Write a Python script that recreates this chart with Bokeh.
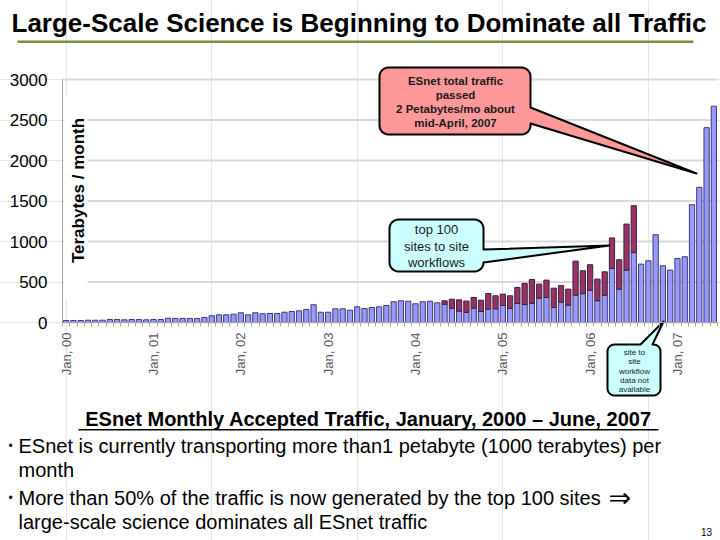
import math
from bokeh.plotting import figure
from bokeh.models import ColumnDataSource, Range1d, FixedTicker, Label, LinearAxis
from bokeh.embed import file_html
from bokeh.resources import INLINE

# ---------------- data (TB / month), Jan 2000 .. Jun 2007 ----------------
total_tb = [
    25, 25, 25, 28, 28, 28, 37, 37, 33, 37, 37, 33,            # 2000
    37, 37, 53, 50, 50, 50, 50, 62, 83, 95, 95, 103,           # 2001
    120, 95, 120, 108, 111, 111, 127, 136, 145, 161, 219, 127, # 2002
    127, 169, 169, 152, 194, 173, 185, 194, 210, 256, 268, 263,# 2003
    231, 256, 262, 243, 268, 288, 280, 265, 309, 276, 358, 330,# 2004
    350, 330, 433, 482, 531, 474, 523, 424, 455, 412, 758, 639,# 2005
    713, 536, 626, 1044, 775, 1215, 1442, 721, 762, 1084, 700, 647,  # 2006
    791, 812, 1454, 1669, 2405, 2670,                          # 2007
]
# top 100 site-to-site workflows, May 2004 .. Jul 2006 (month index 52..78)
top100_first_month = 52
top100_tb = [43, 113, 140, 141, 132, 140, 193, 161, 140, 157, 198, 260, 294,
             173, 214, 239, 204, 198, 420, 283, 315, 268, 290, 377, 363, 568, 579]
tick_months = [0, 12, 24, 36, 48, 60, 72, 84]
tick_labels = ["Jan, 00", "Jan, 01", "Jan, 02", "Jan, 03", "Jan, 04", "Jan, 05", "Jan, 06", "Jan, 07"]
y_ticks = [0, 500, 1000, 1500, 2000, 2500, 3000]
y_max = 3000

n = len(total_tb)
months = list(range(n))
workflow = [0] * n
for i, v in enumerate(top100_tb):
    workflow[top100_first_month + i] = v
other = [t - w for t, w in zip(total_tb, workflow)]
src = ColumnDataSource(dict(m=months, other=other, total=total_tb))
red_idx = [i for i in months if workflow[i] > 0]
src_red = ColumnDataSource(dict(m=red_idx, bottom=[other[i] for i in red_idx],
                                top=[total_tb[i] for i in red_idx]))

# ---------------- layout: the frame is the whole canvas ----------------
W, H = 720, 540
PL, PR, PT, PB = 62, 717, 79, 322          # plot area in canvas pixels
x_lo, x_hi = -0.5, n - 0.5
kx = (PR - PL) / (x_hi - x_lo)
ky = (PB - PT) / y_max
x_range = Range1d(x_lo - PL / kx, x_hi + (W - PR) / kx)
y_range = Range1d(0 - (H - PB) / ky, y_max + PT / ky)

p = figure(width=W, height=H, output_backend="svg", toolbar_location=None,
           x_range=x_range, y_range=y_range,
           x_axis_location=None, y_axis_location=None)
p.min_border = 0
p.outline_line_color = None
p.background_fill_color = "white"
p.border_fill_color = "white"
p.extra_x_ranges = {"px": Range1d(0, W)}
p.extra_y_ranges = {"py": Range1d(H, 0)}

# gridlines across the plot area only
p.segment(x0=[x_lo] * len(y_ticks), x1=[x_hi] * len(y_ticks), y0=y_ticks, y1=y_ticks,
          line_color="#d9d9d9", line_width=2)

BAR_W = 0.72
p.vbar(x="m", width=BAR_W, bottom=0, top="other", source=src,
       fill_color="#9999ff", line_color="#3a3a78", line_width=1)
p.vbar(x="m", width=BAR_W, bottom="bottom", top="top", source=src_red,
       fill_color="#993366", line_color="#3a2040", line_width=1)

# axes drawn at fixed data locations (no side panels)
xaxis = LinearAxis(fixed_location=0, bounds=(x_lo, x_hi))
xaxis.ticker = FixedTicker(ticks=tick_months, minor_ticks=[i - 0.5 for i in range(n + 1)])
xaxis.major_label_overrides = {m: l for m, l in zip(tick_months, tick_labels)}
xaxis.major_label_orientation = math.pi / 2
xaxis.major_tick_out = 0
xaxis.major_tick_in = 0
xaxis.minor_tick_out = 4
xaxis.minor_tick_in = 0
xaxis.minor_tick_line_color = "#a6a6a6"
xaxis.axis_line_color = "#a6a6a6"
xaxis.major_label_text_font = "Liberation Sans"
xaxis.major_label_text_font_size = "13px"
xaxis.major_label_text_color = "#595959"
xaxis.major_label_standoff = 6
p.add_layout(xaxis, "below")

yaxis = LinearAxis(fixed_location=x_lo, bounds=(0, y_max))
yaxis.ticker = FixedTicker(ticks=y_ticks)
yaxis.major_tick_out = 0
yaxis.major_tick_in = 0
yaxis.minor_tick_out = 0
yaxis.minor_tick_in = 0
yaxis.axis_line_color = "#a6a6a6"
yaxis.major_label_text_font = "Liberation Sans"
yaxis.major_label_text_font_size = "17px"
yaxis.major_label_text_color = "black"
yaxis.major_label_standoff = 15
p.add_layout(yaxis, "left")


def shape(xs, ys, fill, line=None, lw=0):
    p.patch(x=xs, y=ys, x_range_name="px", y_range_name="py",
            fill_color=fill, fill_alpha=1.0,
            line_color=line, line_width=lw, line_join="round")


def label(x, y, text, size, font="Liberation Sans", style="normal", color="black",
          align="left", baseline="middle", angle=0.0):
    p.add_layout(Label(x=x, y=y, text=text, x_range_name="px", y_range_name="py",
                       text_font=font, text_font_size=f"{size}px", text_font_style=style,
                       text_color=color, text_align=align, text_baseline=baseline,
                       angle=angle))


def callout(x0, y0, x1, y1, r, side, a, b, tip):
    pts = []
    def arc(cx, cy, a0, a1):
        for k in range(7):
            t = math.radians(a0 + (a1 - a0) * k / 6)
            pts.append((cx + r * math.cos(t), cy + r * math.sin(t)))
    pts.append((x0 + r, y0))
    if side == "top":
        pts.extend([(a, y0), tip, (b, y0)])
    pts.append((x1 - r, y0))
    arc(x1 - r, y0 + r, -90, 0)
    if side == "right":
        pts.extend([(x1, a), tip, (x1, b)])
    arc(x1 - r, y1 - r, 0, 90)
    arc(x0 + r, y1 - r, 90, 180)
    arc(x0 + r, y0 + r, 180, 270)
    return [q[0] for q in pts], [q[1] for q in pts]


# title + rule
label(11, 22, "Large-Scale Science is Beginning to Dominate all Traffic", 26, style="bold")
shape([17, 693, 693, 17], [40, 40, 42.5, 42.5], "#77933c")

# y-axis title inside the plot with white backing
shape([63, 87, 87, 63], [96, 96, 300, 300], "white")
label(78, 190, "Terabytes / month", 17, style="bold", align="center", angle=math.pi / 2)

# callouts
xs, ys = callout(379, 67, 530, 134, 9, "right", 107, 123, (696, 173))
shape(xs, ys, "#ff9999", "black", 2)
for k, t in enumerate(["ESnet total traffic", "passed", "2 Petabytes/mo about", "mid-April, 2007"]):
    label(455, 80 + 14.3 * k, t, 11.5, style="bold", align="center", color="#1a1a1a")

xs, ys = callout(389, 219, 483, 271, 9, "right", 249, 262, (609, 245))
shape(xs, ys, "#ccffff", "black", 2)
for k, t in enumerate(["top 100", "sites to site", "workflows"]):
    label(436, 229 + 16.5 * k, t, 13, align="center", color="#1a1a1a")

xs, ys = callout(607, 344, 660, 395, 7, "top", 640, 652, (663, 321))
shape(xs, ys, "#ccffff", "black", 2)
for k, t in enumerate(["site to", "site", "workflow", "data not", "available"]):
    label(634, 352 + 9.3 * k, t, 8, align="center", color="#1a1a1a")

# bottom text
label(368, 418, "ESnet Monthly Accepted Traffic, January, 2000 \u2013 June, 2007", 20,
      style="bold", align="center")
shape([78, 658, 658, 78], [428.5, 428.5, 430, 430], "black")
label(8, 445, "\u2022", 12)
label(18, 445, "ESnet is currently transporting more than1 petabyte (1000 terabytes) per", 20)
label(18, 469, "month", 20)
label(8, 497, "\u2022", 12)
label(18, 497, "More than 50% of the traffic is now generated by the top 100 sites", 20)
label(608, 497, "\u21d2", 27, font="DejaVu Sans")
label(18, 521, "large-scale science dominates all ESnet traffic", 20)
label(706, 531, "13", 10, align="center")

open("out.html", "w").write(file_html(p, INLINE))
